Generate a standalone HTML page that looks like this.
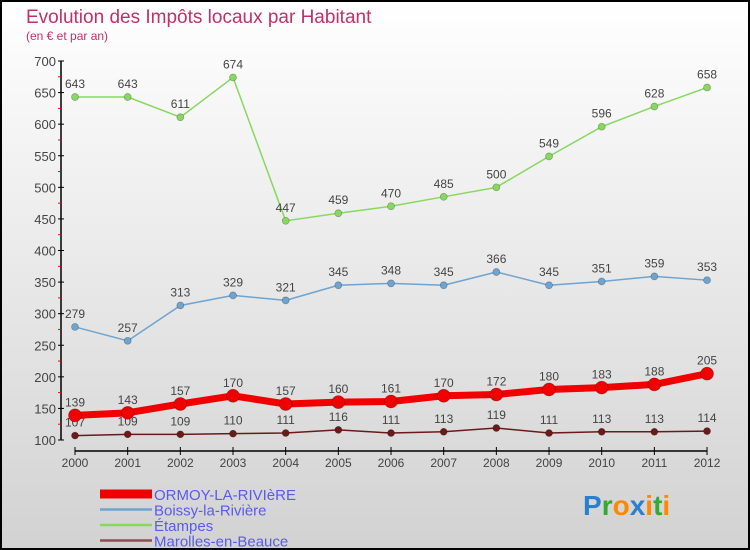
<!DOCTYPE html>
<html><head><meta charset="utf-8"><style>
body{margin:0}
#c{width:750px;height:550px;position:relative;box-sizing:border-box;border:2px solid #000;background:linear-gradient(#fff,#d2d2d2);font-family:"Liberation Sans",sans-serif;overflow:hidden}
</style></head><body>
<div id="c">
<svg id="s" width="746" height="546" style="position:absolute;left:0;top:0"></svg>
</div>
<script>
const years=[2000,2001,2002,2003,2004,2005,2006,2007,2008,2009,2010,2011,2012];
const ormoy=[139,143,157,170,157,160,161,170,172,180,183,188,205];
const boissy=[279,257,313,329,321,345,348,345,366,345,351,359,353];
const etampes=[643,643,611,674,447,459,470,485,500,549,596,628,658];
const marolles=[107,109,109,110,111,116,111,113,119,111,113,113,114];
const yTicks=[100,150,200,250,300,350,400,450,500,550,600,650,700];
const names=["ORMOY-LA-RIVIèRE","Boissy-la-Rivière","Étampes","Marolles-en-Beauce"];
const ns="http://www.w3.org/2000/svg",s=document.getElementById('s');
const ox=-2,oy=-2;
const X=i=>75+ox+i*52.67, Y=v=>440+oy-(v-100)*379/600;
function el(t,a,txt){const e=document.createElementNS(ns,t);for(const k in a)e.setAttribute(k,a[k]);if(txt!==undefined)e.textContent=txt;s.appendChild(e);return e;}
let e=el('text',{x:26+ox,y:23+oy,fill:'#c0306a','font-size':19},'Evolution des Impôts locaux par Habitant');

e=el('text',{x:26+ox,y:40+oy,fill:'#c0306a','font-size':12},'(en € et par an)');

e=el('line',{x1:61+ox,y1:Y(700),x2:61+ox,y2:Y(100),stroke:'#000','stroke-width':1.5});

yTicks.forEach(v=>{
 e=el('line',{x1:58+ox,y1:Y(v),x2:64+ox,y2:Y(v),stroke:'#000'});
 
 if(v<700){
 e=el('line',{x1:58+ox,y1:Y(v+25),x2:61+ox,y2:Y(v+25),stroke:'#f00'});
 
 }
 e=el('text',{x:56+ox,y:Y(v)+5,'text-anchor':'end','font-size':13,fill:'#444'},v);
 
});
e=el('line',{x1:X(0),y1:451+oy,x2:X(12),y2:451+oy,stroke:'#000','stroke-width':1.5});

years.forEach((y,i)=>{
 e=el('line',{x1:X(i),y1:447+oy,x2:X(i),y2:455+oy,stroke:'#000'});
 
 e=el('text',{x:X(i),y:467+oy,'text-anchor':'middle','font-size':12,fill:'#444'},y);
 
});
function series(d,col,w,r,nm){
 e=el('polyline',{points:d.map((v,i)=>X(i)+','+Y(v)).join(' '),fill:'none',stroke:col,'stroke-width':w,'stroke-linejoin':'round'});
 
 d.forEach((v,i)=>{
  e=el('circle',{cx:X(i),cy:Y(v),r:r,fill:col,stroke:'rgba(0,0,0,0.3)','stroke-width':0.7});
  
  e=el('text',{x:X(i),y:Y(v)-9,'text-anchor':'middle','font-size':12,fill:'#444'},v);
  
 });
}
series(etampes,'#88d860',1.5,3.5,'etampes');
series(boissy,'#6fa3d0',1.5,3.5,'boissy');
series(marolles,'#6b1a1a',1.5,3.5,'marolles');
series(ormoy,'#f00000',7,6.5,'ormoy');
const lc=['#f00000','#6fa3d0','#88d860','#8b5050'],lw=[9,2.5,2.5,2.5];
names.forEach((n,i)=>{
 const yy=494+i*15.5+oy;
 e=el('line',{x1:100+ox,y1:yy,x2:152+ox,y2:yy,stroke:lc[i],'stroke-width':lw[i]});
 
 e=el('text',{x:154+ox,y:yy+6,'font-size':15,fill:'#5a5af0'},n);
 
});
e=el('text',{x:583+ox,y:515+oy,'font-size':28,'font-weight':'bold'});

[['P','#2a7fd0'],['r','#3a3'],['o','#f80'],['x','#2a7fd0'],['i','#f80'],['t','#3a3'],['i','#f80']].forEach(([c,f])=>{const t=document.createElementNS(ns,'tspan');t.setAttribute('fill',f);t.textContent=c;e.appendChild(t);});
</script>
</body></html>
